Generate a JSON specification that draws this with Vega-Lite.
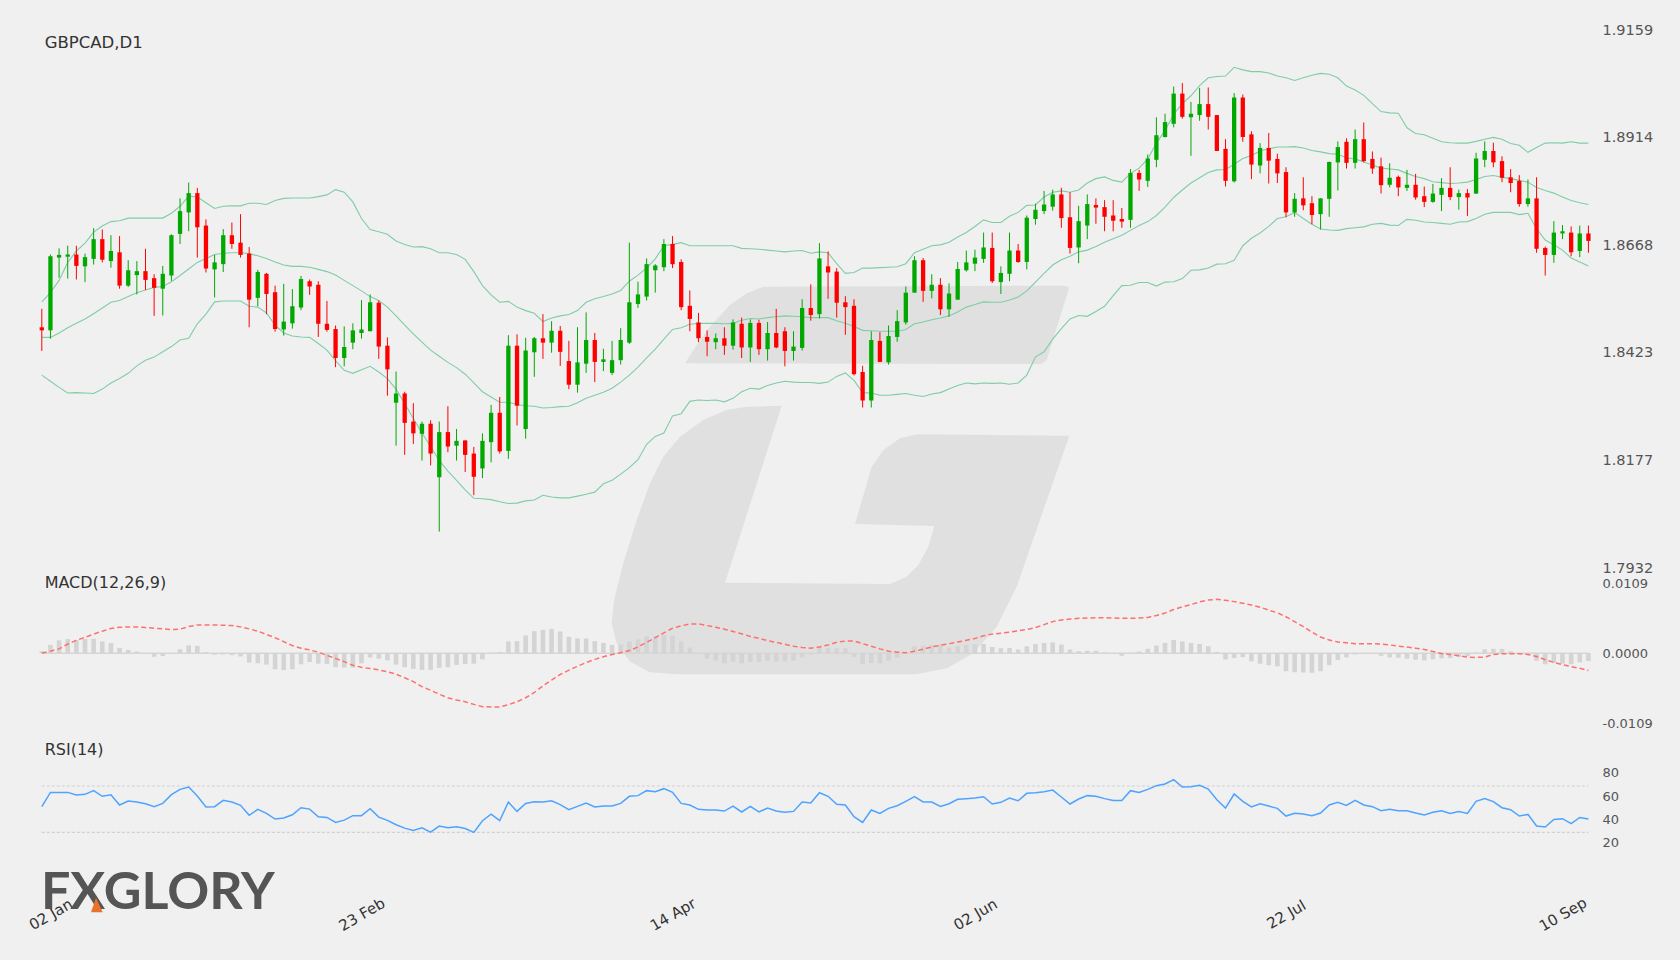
{
"$schema":"https://vega.github.io/schema/vega-lite/v6.json",
"width":1680,"height":960,"padding":0,"autosize":{"type":"none"},"background":"#f0f0f0",
"config":{"view":{"stroke":null},"font":"DejaVu Sans"},
"datasets":{"ohlc":[
{"i":0,"o":1.8481,"h":1.8523,"l":1.8427,"c":1.8474,"up":1.8539,"mid":1.8458,"lo":1.8372,"macd":0,"hist":0.00031,"rsi":52.2},
{"i":1,"o":1.8474,"h":1.8647,"l":1.8455,"c":1.8643,"up":1.856,"mid":1.8458,"lo":1.8358,"macd":0.00031,"hist":0.00128,"rsi":64.5},
{"i":2,"o":1.864,"h":1.8661,"l":1.8594,"c":1.8646,"up":1.8588,"mid":1.8468,"lo":1.8344,"macd":0.00067,"hist":0.002,"rsi":64.5},
{"i":3,"o":1.8642,"h":1.8667,"l":1.8592,"c":1.8647,"up":1.8629,"mid":1.848,"lo":1.8331,"macd":0.00143,"hist":0.0022,"rsi":64.5},
{"i":4,"o":1.8647,"h":1.8667,"l":1.859,"c":1.8621,"up":1.8655,"mid":1.849,"lo":1.8332,"macd":0.002,"hist":0.00205,"rsi":62.2},
{"i":5,"o":1.862,"h":1.8649,"l":1.8584,"c":1.8641,"up":1.8673,"mid":1.85,"lo":1.8331,"macd":0.00246,"hist":0.0022,"rsi":62.8},
{"i":6,"o":1.8637,"h":1.8707,"l":1.8624,"c":1.8682,"up":1.8698,"mid":1.8512,"lo":1.833,"macd":0.00297,"hist":0.00225,"rsi":66},
{"i":7,"o":1.8682,"h":1.8704,"l":1.8629,"c":1.8635,"up":1.8712,"mid":1.8525,"lo":1.834,"macd":0.00343,"hist":0.00184,"rsi":61.1},
{"i":8,"o":1.8632,"h":1.8691,"l":1.8617,"c":1.8655,"up":1.8722,"mid":1.8538,"lo":1.8354,"macd":0.00384,"hist":0.00159,"rsi":62.5},
{"i":9,"o":1.8652,"h":1.8689,"l":1.8569,"c":1.8576,"up":1.8724,"mid":1.8542,"lo":1.8364,"macd":0.00404,"hist":0.00082,"rsi":53.6},
{"i":10,"o":1.8576,"h":1.8634,"l":1.8573,"c":1.8611,"up":1.873,"mid":1.8551,"lo":1.8376,"macd":0.0041,"hist":0.00051,"rsi":57},
{"i":11,"o":1.86,"h":1.8632,"l":1.8556,"c":1.8609,"up":1.873,"mid":1.856,"lo":1.8393,"macd":0.0041,"hist":0.00026,"rsi":56.2},
{"i":12,"o":1.8609,"h":1.866,"l":1.8566,"c":1.8589,"up":1.873,"mid":1.8566,"lo":1.8406,"macd":0.00399,"hist":-0.0001,"rsi":54.7},
{"i":13,"o":1.8593,"h":1.8602,"l":1.8507,"c":1.8571,"up":1.873,"mid":1.8572,"lo":1.8413,"macd":0.00389,"hist":-0.00056,"rsi":52.2},
{"i":14,"o":1.8569,"h":1.8621,"l":1.8508,"c":1.8603,"up":1.873,"mid":1.8574,"lo":1.8425,"macd":0.00379,"hist":-0.00046,"rsi":55},
{"i":15,"o":1.8599,"h":1.8693,"l":1.8587,"c":1.8691,"up":1.8741,"mid":1.8585,"lo":1.8437,"macd":0.00369,"hist":0,"rsi":62.5},
{"i":16,"o":1.8694,"h":1.8775,"l":1.8671,"c":1.8746,"up":1.8757,"mid":1.8599,"lo":1.8452,"macd":0.00374,"hist":0.00061,"rsi":67.1},
{"i":17,"o":1.8743,"h":1.8811,"l":1.87,"c":1.8787,"up":1.878,"mid":1.8614,"lo":1.8456,"macd":0.00415,"hist":0.00123,"rsi":69.1},
{"i":18,"o":1.8787,"h":1.8799,"l":1.864,"c":1.8709,"up":1.8778,"mid":1.8629,"lo":1.8489,"macd":0.0044,"hist":0.00113,"rsi":61.4},
{"i":19,"o":1.8713,"h":1.8727,"l":1.8606,"c":1.8615,"up":1.8765,"mid":1.8638,"lo":1.8511,"macd":0.0044,"hist":0.00015,"rsi":51.9},
{"i":20,"o":1.8613,"h":1.8646,"l":1.8549,"c":1.8629,"up":1.8752,"mid":1.8647,"lo":1.8539,"macd":0.0044,"hist":-0.00026,"rsi":52.2},
{"i":21,"o":1.8625,"h":1.8705,"l":1.8607,"c":1.8691,"up":1.8757,"mid":1.865,"lo":1.8541,"macd":0.00435,"hist":-0.0002,"rsi":57.6},
{"i":22,"o":1.8691,"h":1.872,"l":1.866,"c":1.8671,"up":1.8758,"mid":1.8651,"lo":1.8541,"macd":0.0043,"hist":-0.00031,"rsi":56.2},
{"i":23,"o":1.8674,"h":1.8739,"l":1.864,"c":1.8646,"up":1.8758,"mid":1.8651,"lo":1.8541,"macd":0.0041,"hist":-0.00051,"rsi":53.3},
{"i":24,"o":1.8649,"h":1.8664,"l":1.8481,"c":1.8544,"up":1.8764,"mid":1.8649,"lo":1.8529,"macd":0.00379,"hist":-0.00148,"rsi":44.7},
{"i":25,"o":1.8548,"h":1.8612,"l":1.8529,"c":1.8607,"up":1.8764,"mid":1.8644,"lo":1.8527,"macd":0.00343,"hist":-0.00159,"rsi":49.9},
{"i":26,"o":1.8603,"h":1.8605,"l":1.8511,"c":1.8557,"up":1.8761,"mid":1.8638,"lo":1.8514,"macd":0.00292,"hist":-0.00179,"rsi":46.4},
{"i":27,"o":1.8561,"h":1.8576,"l":1.8471,"c":1.8477,"up":1.877,"mid":1.863,"lo":1.8486,"macd":0.00241,"hist":-0.00251,"rsi":41.5},
{"i":28,"o":1.8476,"h":1.858,"l":1.8462,"c":1.8494,"up":1.8775,"mid":1.8623,"lo":1.8468,"macd":0.00179,"hist":-0.00266,"rsi":42.4},
{"i":29,"o":1.849,"h":1.8568,"l":1.8478,"c":1.8529,"up":1.8776,"mid":1.862,"lo":1.8461,"macd":0.00118,"hist":-0.00251,"rsi":45.2},
{"i":30,"o":1.8526,"h":1.8598,"l":1.852,"c":1.8591,"up":1.8776,"mid":1.862,"lo":1.8459,"macd":0.00077,"hist":-0.00174,"rsi":51.3},
{"i":31,"o":1.8586,"h":1.859,"l":1.8555,"c":1.8574,"up":1.8776,"mid":1.8618,"lo":1.8458,"macd":0.00051,"hist":-0.00138,"rsi":50.1},
{"i":32,"o":1.8578,"h":1.8586,"l":1.8459,"c":1.8489,"up":1.8779,"mid":1.8613,"lo":1.8444,"macd":0.00015,"hist":-0.00164,"rsi":43.5},
{"i":33,"o":1.8489,"h":1.8541,"l":1.8471,"c":1.8475,"up":1.8783,"mid":1.8608,"lo":1.8429,"macd":-0.00036,"hist":-0.00169,"rsi":42.9},
{"i":34,"o":1.8477,"h":1.8485,"l":1.839,"c":1.8411,"up":1.8795,"mid":1.86,"lo":1.8405,"macd":-0.00082,"hist":-0.0022,"rsi":38.6},
{"i":35,"o":1.8411,"h":1.8483,"l":1.8392,"c":1.8436,"up":1.8789,"mid":1.8588,"lo":1.8383,"macd":-0.00133,"hist":-0.00225,"rsi":40.6},
{"i":36,"o":1.8446,"h":1.849,"l":1.8431,"c":1.8474,"up":1.8767,"mid":1.8576,"lo":1.8376,"macd":-0.00189,"hist":-0.00225,"rsi":44.4},
{"i":37,"o":1.8468,"h":1.8543,"l":1.8455,"c":1.8476,"up":1.8729,"mid":1.8564,"lo":1.8384,"macd":-0.0022,"hist":-0.00159,"rsi":44.4},
{"i":38,"o":1.8472,"h":1.8556,"l":1.8472,"c":1.8538,"up":1.8704,"mid":1.8551,"lo":1.8392,"macd":-0.00241,"hist":-0.00067,"rsi":50.4},
{"i":39,"o":1.8537,"h":1.8542,"l":1.8409,"c":1.8437,"up":1.8699,"mid":1.8542,"lo":1.8379,"macd":-0.00261,"hist":-0.00087,"rsi":43.2},
{"i":40,"o":1.8439,"h":1.8458,"l":1.8325,"c":1.8385,"up":1.8693,"mid":1.8527,"lo":1.8364,"macd":-0.00292,"hist":-0.00113,"rsi":40.4},
{"i":41,"o":1.8309,"h":1.838,"l":1.8211,"c":1.833,"up":1.8678,"mid":1.8507,"lo":1.834,"macd":-0.00328,"hist":-0.00179,"rsi":36.6},
{"i":42,"o":1.833,"h":1.8334,"l":1.819,"c":1.8263,"up":1.867,"mid":1.8486,"lo":1.8307,"macd":-0.00384,"hist":-0.0022,"rsi":33.7},
{"i":43,"o":1.8266,"h":1.8308,"l":1.8215,"c":1.8239,"up":1.8664,"mid":1.8466,"lo":1.8273,"macd":-0.00445,"hist":-0.00246,"rsi":31.7},
{"i":44,"o":1.8238,"h":1.8266,"l":1.8177,"c":1.8261,"up":1.8665,"mid":1.8447,"lo":1.824,"macd":-0.00522,"hist":-0.00261,"rsi":34},
{"i":45,"o":1.8261,"h":1.8269,"l":1.8166,"c":1.8193,"up":1.866,"mid":1.8429,"lo":1.8209,"macd":-0.00579,"hist":-0.00261,"rsi":30.3},
{"i":46,"o":1.8139,"h":1.8266,"l":1.8015,"c":1.8242,"up":1.8651,"mid":1.8415,"lo":1.8177,"macd":-0.0064,"hist":-0.0023,"rsi":35.5},
{"i":47,"o":1.8242,"h":1.8301,"l":1.8196,"c":1.8209,"up":1.8651,"mid":1.8401,"lo":1.8153,"macd":-0.00696,"hist":-0.0022,"rsi":34},
{"i":48,"o":1.8211,"h":1.8249,"l":1.8177,"c":1.8222,"up":1.8647,"mid":1.8389,"lo":1.8132,"macd":-0.00732,"hist":-0.00184,"rsi":34.9},
{"i":49,"o":1.8223,"h":1.8223,"l":1.8151,"c":1.819,"up":1.8636,"mid":1.8374,"lo":1.811,"macd":-0.00758,"hist":-0.00169,"rsi":33.4},
{"i":50,"o":1.8193,"h":1.8208,"l":1.8098,"c":1.814,"up":1.8608,"mid":1.8354,"lo":1.8091,"macd":-0.00799,"hist":-0.00164,"rsi":30},
{"i":51,"o":1.8159,"h":1.8239,"l":1.8137,"c":1.8222,"up":1.8576,"mid":1.8334,"lo":1.809,"macd":-0.00835,"hist":-0.00097,"rsi":40.1},
{"i":52,"o":1.8219,"h":1.8304,"l":1.8173,"c":1.8286,"up":1.8555,"mid":1.8322,"lo":1.8088,"macd":-0.0084,"hist":0.00005,"rsi":45.8},
{"i":53,"o":1.8286,"h":1.8322,"l":1.8193,"c":1.8198,"up":1.8538,"mid":1.831,"lo":1.8083,"macd":-0.0084,"hist":0.0002,"rsi":40.1},
{"i":54,"o":1.8199,"h":1.8463,"l":1.8181,"c":1.8439,"up":1.854,"mid":1.831,"lo":1.8079,"macd":-0.00804,"hist":0.00184,"rsi":56.2},
{"i":55,"o":1.8439,"h":1.8465,"l":1.8257,"c":1.8302,"up":1.8527,"mid":1.8305,"lo":1.808,"macd":-0.00758,"hist":0.00189,"rsi":48.1},
{"i":56,"o":1.8249,"h":1.8457,"l":1.8227,"c":1.8428,"up":1.8519,"mid":1.8302,"lo":1.8085,"macd":-0.00696,"hist":0.00276,"rsi":55},
{"i":57,"o":1.8424,"h":1.8459,"l":1.8368,"c":1.8456,"up":1.8513,"mid":1.8301,"lo":1.8087,"macd":-0.00614,"hist":0.00343,"rsi":56.5},
{"i":58,"o":1.8456,"h":1.8511,"l":1.8409,"c":1.8446,"up":1.8494,"mid":1.8297,"lo":1.8098,"macd":-0.00512,"hist":0.00364,"rsi":56.2},
{"i":59,"o":1.8446,"h":1.8495,"l":1.8423,"c":1.8473,"up":1.8502,"mid":1.8298,"lo":1.8094,"macd":-0.0042,"hist":0.00379,"rsi":57.3},
{"i":60,"o":1.8473,"h":1.8484,"l":1.8393,"c":1.8425,"up":1.8507,"mid":1.83,"lo":1.8092,"macd":-0.00333,"hist":0.00338,"rsi":53.9},
{"i":61,"o":1.8404,"h":1.845,"l":1.834,"c":1.835,"up":1.851,"mid":1.8301,"lo":1.8092,"macd":-0.00266,"hist":0.00256,"rsi":49.6},
{"i":62,"o":1.835,"h":1.8481,"l":1.8332,"c":1.8401,"up":1.8519,"mid":1.8309,"lo":1.8096,"macd":-0.00205,"hist":0.0023,"rsi":52.4},
{"i":63,"o":1.8398,"h":1.8515,"l":1.8377,"c":1.8452,"up":1.8538,"mid":1.8319,"lo":1.81,"macd":-0.00148,"hist":0.0023,"rsi":55.3},
{"i":64,"o":1.8452,"h":1.8468,"l":1.8356,"c":1.8402,"up":1.8546,"mid":1.8326,"lo":1.8105,"macd":-0.00097,"hist":0.00189,"rsi":51.9},
{"i":65,"o":1.8402,"h":1.8432,"l":1.8381,"c":1.8408,"up":1.8551,"mid":1.8333,"lo":1.8124,"macd":-0.00056,"hist":0.00159,"rsi":52.7},
{"i":66,"o":1.8377,"h":1.845,"l":1.8372,"c":1.8406,"up":1.8557,"mid":1.8342,"lo":1.8132,"macd":-0.0002,"hist":0.00128,"rsi":52.7},
{"i":67,"o":1.8406,"h":1.8479,"l":1.8396,"c":1.8452,"up":1.8565,"mid":1.8356,"lo":1.8146,"macd":0.00005,"hist":0.00133,"rsi":55},
{"i":68,"o":1.8446,"h":1.8674,"l":1.8443,"c":1.8538,"up":1.8586,"mid":1.8372,"lo":1.8161,"macd":0.00041,"hist":0.00184,"rsi":61.1},
{"i":69,"o":1.8534,"h":1.8585,"l":1.8525,"c":1.8556,"up":1.86,"mid":1.839,"lo":1.8179,"macd":0.00097,"hist":0.00215,"rsi":61.7},
{"i":70,"o":1.8551,"h":1.8638,"l":1.8542,"c":1.8625,"up":1.8616,"mid":1.8411,"lo":1.8214,"macd":0.00169,"hist":0.00261,"rsi":66},
{"i":71,"o":1.8611,"h":1.8625,"l":1.856,"c":1.8622,"up":1.8637,"mid":1.8431,"lo":1.8232,"macd":0.00241,"hist":0.00261,"rsi":65.1},
{"i":72,"o":1.8618,"h":1.8682,"l":1.8609,"c":1.8671,"up":1.8667,"mid":1.8454,"lo":1.824,"macd":0.00317,"hist":0.00282,"rsi":67.7},
{"i":73,"o":1.8671,"h":1.8689,"l":1.8616,"c":1.8625,"up":1.867,"mid":1.8476,"lo":1.8279,"macd":0.00389,"hist":0.00276,"rsi":64.5},
{"i":74,"o":1.863,"h":1.8636,"l":1.852,"c":1.8527,"up":1.8674,"mid":1.848,"lo":1.8284,"macd":0.00425,"hist":0.00184,"rsi":55},
{"i":75,"o":1.853,"h":1.8565,"l":1.8472,"c":1.85,"up":1.8667,"mid":1.8488,"lo":1.8312,"macd":0.00456,"hist":0.00087,"rsi":53.6},
{"i":76,"o":1.8492,"h":1.8514,"l":1.8447,"c":1.8456,"up":1.8667,"mid":1.849,"lo":1.8315,"macd":0.00456,"hist":0,"rsi":49.9},
{"i":77,"o":1.8459,"h":1.8474,"l":1.8415,"c":1.8448,"up":1.8667,"mid":1.849,"lo":1.8314,"macd":0.0043,"hist":-0.00087,"rsi":49.3},
{"i":78,"o":1.8447,"h":1.8467,"l":1.8431,"c":1.8456,"up":1.8667,"mid":1.849,"lo":1.8315,"macd":0.00404,"hist":-0.00113,"rsi":49.3},
{"i":79,"o":1.8456,"h":1.8481,"l":1.8418,"c":1.8439,"up":1.8667,"mid":1.8489,"lo":1.8311,"macd":0.00374,"hist":-0.00159,"rsi":48.4},
{"i":80,"o":1.8439,"h":1.8499,"l":1.843,"c":1.8492,"up":1.8667,"mid":1.849,"lo":1.8319,"macd":0.00338,"hist":-0.00138,"rsi":52.7},
{"i":81,"o":1.8489,"h":1.8503,"l":1.8411,"c":1.8435,"up":1.8661,"mid":1.8497,"lo":1.8334,"macd":0.00302,"hist":-0.00159,"rsi":47.6},
{"i":82,"o":1.8435,"h":1.8499,"l":1.8402,"c":1.8491,"up":1.866,"mid":1.8501,"lo":1.8342,"macd":0.00261,"hist":-0.00138,"rsi":52.4},
{"i":83,"o":1.8491,"h":1.8498,"l":1.8418,"c":1.8431,"up":1.8659,"mid":1.85,"lo":1.834,"macd":0.0023,"hist":-0.00138,"rsi":47.6},
{"i":84,"o":1.8431,"h":1.8493,"l":1.8405,"c":1.8468,"up":1.8657,"mid":1.8503,"lo":1.8348,"macd":0.00195,"hist":-0.00123,"rsi":51},
{"i":85,"o":1.8468,"h":1.8523,"l":1.8433,"c":1.8435,"up":1.8655,"mid":1.8505,"lo":1.8354,"macd":0.00169,"hist":-0.00133,"rsi":48.4},
{"i":86,"o":1.8472,"h":1.8481,"l":1.8392,"c":1.8427,"up":1.8653,"mid":1.8507,"lo":1.8358,"macd":0.00138,"hist":-0.00128,"rsi":47.3},
{"i":87,"o":1.8427,"h":1.8472,"l":1.8405,"c":1.8437,"up":1.8655,"mid":1.8506,"lo":1.8356,"macd":0.00108,"hist":-0.00118,"rsi":48.1},
{"i":88,"o":1.8434,"h":1.8545,"l":1.8428,"c":1.8525,"up":1.8656,"mid":1.8505,"lo":1.8355,"macd":0.00087,"hist":-0.00067,"rsi":56.2},
{"i":89,"o":1.8525,"h":1.8579,"l":1.8496,"c":1.8509,"up":1.865,"mid":1.8503,"lo":1.8355,"macd":0.00077,"hist":-0.0002,"rsi":55.3},
{"i":90,"o":1.8511,"h":1.8673,"l":1.8501,"c":1.8638,"up":1.8653,"mid":1.8503,"lo":1.8353,"macd":0.00097,"hist":0.00097,"rsi":64.2},
{"i":91,"o":1.862,"h":1.8654,"l":1.8546,"c":1.8606,"up":1.8651,"mid":1.8503,"lo":1.8356,"macd":0.00128,"hist":0.00082,"rsi":61.1},
{"i":92,"o":1.8608,"h":1.8616,"l":1.8503,"c":1.8537,"up":1.8626,"mid":1.8496,"lo":1.8369,"macd":0.00169,"hist":0.00077,"rsi":54.2},
{"i":93,"o":1.8538,"h":1.8552,"l":1.8464,"c":1.8527,"up":1.8604,"mid":1.849,"lo":1.8377,"macd":0.00189,"hist":0.00077,"rsi":53.6},
{"i":94,"o":1.853,"h":1.8545,"l":1.8371,"c":1.8374,"up":1.8606,"mid":1.8483,"lo":1.836,"macd":0.00189,"hist":-0.00061,"rsi":43.5},
{"i":95,"o":1.8379,"h":1.8393,"l":1.8298,"c":1.8314,"up":1.8616,"mid":1.8474,"lo":1.8332,"macd":0.00148,"hist":-0.00169,"rsi":38.6},
{"i":96,"o":1.8314,"h":1.8472,"l":1.8298,"c":1.8452,"up":1.8616,"mid":1.8473,"lo":1.8331,"macd":0.00108,"hist":-0.00154,"rsi":49.3},
{"i":97,"o":1.845,"h":1.847,"l":1.8402,"c":1.8402,"up":1.8617,"mid":1.8472,"lo":1.8326,"macd":0.00067,"hist":-0.00159,"rsi":46.4},
{"i":98,"o":1.8401,"h":1.8485,"l":1.8396,"c":1.8461,"up":1.8618,"mid":1.8472,"lo":1.8326,"macd":0.00031,"hist":-0.00118,"rsi":50.7},
{"i":99,"o":1.8459,"h":1.852,"l":1.8448,"c":1.8495,"up":1.8619,"mid":1.8472,"lo":1.8328,"macd":0.00015,"hist":-0.00072,"rsi":53},
{"i":100,"o":1.8492,"h":1.8574,"l":1.8487,"c":1.856,"up":1.8626,"mid":1.8476,"lo":1.833,"macd":0.00005,"hist":0.00005,"rsi":56.8},
{"i":101,"o":1.856,"h":1.8643,"l":1.856,"c":1.8634,"up":1.8651,"mid":1.8489,"lo":1.8326,"macd":0.00031,"hist":0.00108,"rsi":60.8},
{"i":102,"o":1.8634,"h":1.8639,"l":1.8539,"c":1.8564,"up":1.8659,"mid":1.8493,"lo":1.8323,"macd":0.00061,"hist":0.00118,"rsi":56.2},
{"i":103,"o":1.8564,"h":1.8602,"l":1.8547,"c":1.8578,"up":1.8667,"mid":1.8498,"lo":1.8329,"macd":0.00097,"hist":0.00128,"rsi":56.2},
{"i":104,"o":1.8578,"h":1.8593,"l":1.8509,"c":1.8522,"up":1.8669,"mid":1.8502,"lo":1.8332,"macd":0.00123,"hist":0.00138,"rsi":52.4},
{"i":105,"o":1.8522,"h":1.8581,"l":1.8505,"c":1.8558,"up":1.8675,"mid":1.8507,"lo":1.834,"macd":0.00148,"hist":0.00087,"rsi":54.7},
{"i":106,"o":1.8544,"h":1.863,"l":1.8544,"c":1.8614,"up":1.8687,"mid":1.8516,"lo":1.8348,"macd":0.00174,"hist":0.00108,"rsi":58.5},
{"i":107,"o":1.8611,"h":1.8656,"l":1.8608,"c":1.8629,"up":1.8697,"mid":1.8527,"lo":1.8354,"macd":0.002,"hist":0.00128,"rsi":59.1},
{"i":108,"o":1.8626,"h":1.8658,"l":1.8609,"c":1.864,"up":1.8711,"mid":1.8533,"lo":1.8352,"macd":0.0023,"hist":0.00138,"rsi":59.6},
{"i":109,"o":1.8637,"h":1.8697,"l":1.8628,"c":1.8663,"up":1.8726,"mid":1.8539,"lo":1.8354,"macd":0.00271,"hist":0.00143,"rsi":60.8},
{"i":110,"o":1.8662,"h":1.8697,"l":1.8582,"c":1.8586,"up":1.872,"mid":1.8538,"lo":1.8353,"macd":0.00297,"hist":0.00097,"rsi":54.5},
{"i":111,"o":1.8584,"h":1.862,"l":1.8557,"c":1.8605,"up":1.872,"mid":1.8538,"lo":1.8354,"macd":0.00312,"hist":0.00077,"rsi":55.9},
{"i":112,"o":1.8603,"h":1.8697,"l":1.8586,"c":1.8656,"up":1.8734,"mid":1.8543,"lo":1.8351,"macd":0.00328,"hist":0.00082,"rsi":59.6},
{"i":113,"o":1.8656,"h":1.8671,"l":1.8628,"c":1.863,"up":1.8743,"mid":1.855,"lo":1.8354,"macd":0.00348,"hist":0.00056,"rsi":57.3},
{"i":114,"o":1.863,"h":1.8736,"l":1.8613,"c":1.8731,"up":1.8759,"mid":1.8564,"lo":1.8372,"macd":0.00369,"hist":0.00108,"rsi":63.7},
{"i":115,"o":1.8728,"h":1.8763,"l":1.8715,"c":1.8749,"up":1.876,"mid":1.8584,"lo":1.8413,"macd":0.00399,"hist":0.00143,"rsi":64.2},
{"i":116,"o":1.8746,"h":1.8792,"l":1.8739,"c":1.8761,"up":1.8778,"mid":1.8604,"lo":1.8425,"macd":0.00445,"hist":0.00159,"rsi":65.1},
{"i":117,"o":1.8756,"h":1.8795,"l":1.8747,"c":1.8784,"up":1.8789,"mid":1.8623,"lo":1.8454,"macd":0.00492,"hist":0.00169,"rsi":66.5},
{"i":118,"o":1.8784,"h":1.8799,"l":1.8708,"c":1.873,"up":1.8792,"mid":1.8635,"lo":1.8478,"macd":0.00517,"hist":0.00133,"rsi":60.5},
{"i":119,"o":1.8732,"h":1.8789,"l":1.8649,"c":1.8662,"up":1.8789,"mid":1.8643,"lo":1.85,"macd":0.00532,"hist":0.00056,"rsi":54.5},
{"i":120,"o":1.8663,"h":1.8758,"l":1.8627,"c":1.8723,"up":1.8794,"mid":1.8653,"lo":1.8508,"macd":0.00543,"hist":0.00031,"rsi":58.8},
{"i":121,"o":1.8713,"h":1.8784,"l":1.8682,"c":1.8762,"up":1.881,"mid":1.8657,"lo":1.8506,"macd":0.00548,"hist":0.00036,"rsi":61.7},
{"i":122,"o":1.876,"h":1.8775,"l":1.8717,"c":1.8754,"up":1.882,"mid":1.8665,"lo":1.8517,"macd":0.00553,"hist":0.00036,"rsi":61.1},
{"i":123,"o":1.8755,"h":1.8771,"l":1.87,"c":1.8733,"up":1.8824,"mid":1.8675,"lo":1.8529,"macd":0.00553,"hist":0.0001,"rsi":59.1},
{"i":124,"o":1.8736,"h":1.8771,"l":1.87,"c":1.8724,"up":1.8816,"mid":1.8683,"lo":1.8553,"macd":0.00548,"hist":-0.0001,"rsi":57.6},
{"i":125,"o":1.8728,"h":1.8753,"l":1.8708,"c":1.8722,"up":1.8812,"mid":1.8691,"lo":1.8576,"macd":0.00543,"hist":-0.00041,"rsi":57.6},
{"i":126,"o":1.8726,"h":1.8842,"l":1.8708,"c":1.8833,"up":1.8832,"mid":1.8702,"lo":1.8577,"macd":0.00543,"hist":0.00005,"rsi":66},
{"i":127,"o":1.8833,"h":1.884,"l":1.8792,"c":1.8818,"up":1.8844,"mid":1.8713,"lo":1.8583,"macd":0.00548,"hist":0.00026,"rsi":64.5},
{"i":128,"o":1.8815,"h":1.8875,"l":1.8801,"c":1.8866,"up":1.8865,"mid":1.8722,"lo":1.8583,"macd":0.00558,"hist":0.00067,"rsi":67.1},
{"i":129,"o":1.8863,"h":1.896,"l":1.8846,"c":1.8919,"up":1.8901,"mid":1.8736,"lo":1.8575,"macd":0.00589,"hist":0.00118,"rsi":70.3},
{"i":130,"o":1.8915,"h":1.8968,"l":1.8914,"c":1.8949,"up":1.893,"mid":1.8755,"lo":1.8584,"macd":0.00625,"hist":0.00159,"rsi":71.7},
{"i":131,"o":1.8945,"h":1.903,"l":1.8937,"c":1.9014,"up":1.8967,"mid":1.8777,"lo":1.8585,"macd":0.00681,"hist":0.00205,"rsi":75.5},
{"i":132,"o":1.9014,"h":1.9038,"l":1.8957,"c":1.8961,"up":1.8991,"mid":1.8794,"lo":1.8592,"macd":0.00722,"hist":0.00184,"rsi":69.1},
{"i":133,"o":1.896,"h":1.8995,"l":1.8872,"c":1.8968,"up":1.9009,"mid":1.881,"lo":1.8611,"macd":0.00758,"hist":0.00159,"rsi":69.4},
{"i":134,"o":1.8965,"h":1.9027,"l":1.8952,"c":1.899,"up":1.9032,"mid":1.8822,"lo":1.8612,"macd":0.00799,"hist":0.00143,"rsi":70.6},
{"i":135,"o":1.899,"h":1.9028,"l":1.8932,"c":1.8961,"up":1.905,"mid":1.8834,"lo":1.8616,"macd":0.00829,"hist":0.00108,"rsi":67.4},
{"i":136,"o":1.8965,"h":1.8965,"l":1.8883,"c":1.8883,"up":1.9053,"mid":1.884,"lo":1.8625,"macd":0.0084,"hist":0.0002,"rsi":58.2},
{"i":137,"o":1.8888,"h":1.891,"l":1.8802,"c":1.8815,"up":1.9054,"mid":1.8841,"lo":1.8626,"macd":0.00824,"hist":-0.00097,"rsi":51},
{"i":138,"o":1.8814,"h":1.9015,"l":1.8811,"c":1.9005,"up":1.9074,"mid":1.8853,"lo":1.8634,"macd":0.00804,"hist":-0.00077,"rsi":63.1},
{"i":139,"o":1.9005,"h":1.9012,"l":1.8904,"c":1.8915,"up":1.9068,"mid":1.8866,"lo":1.8667,"macd":0.00778,"hist":-0.00061,"rsi":56.8},
{"i":140,"o":1.8921,"h":1.8928,"l":1.8819,"c":1.8852,"up":1.9064,"mid":1.8873,"lo":1.8684,"macd":0.00753,"hist":-0.00128,"rsi":51.9},
{"i":141,"o":1.885,"h":1.8901,"l":1.8832,"c":1.889,"up":1.9064,"mid":1.8883,"lo":1.8696,"macd":0.00717,"hist":-0.00164,"rsi":54.7},
{"i":142,"o":1.889,"h":1.8924,"l":1.8809,"c":1.8861,"up":1.9061,"mid":1.8888,"lo":1.8711,"macd":0.00671,"hist":-0.00189,"rsi":52.7},
{"i":143,"o":1.8865,"h":1.8877,"l":1.881,"c":1.8832,"up":1.9054,"mid":1.8892,"lo":1.8729,"macd":0.0063,"hist":-0.00205,"rsi":50.7},
{"i":144,"o":1.8835,"h":1.8846,"l":1.8732,"c":1.8743,"up":1.905,"mid":1.8892,"lo":1.8733,"macd":0.00568,"hist":-0.00282,"rsi":44.1},
{"i":145,"o":1.8743,"h":1.8787,"l":1.8733,"c":1.8774,"up":1.9044,"mid":1.8893,"lo":1.8743,"macd":0.00492,"hist":-0.00297,"rsi":46.4},
{"i":146,"o":1.8775,"h":1.8823,"l":1.8748,"c":1.8759,"up":1.905,"mid":1.889,"lo":1.8729,"macd":0.00415,"hist":-0.00302,"rsi":45.8},
{"i":147,"o":1.8764,"h":1.878,"l":1.8716,"c":1.8737,"up":1.9056,"mid":1.8884,"lo":1.8716,"macd":0.00328,"hist":-0.00307,"rsi":44.4},
{"i":148,"o":1.8739,"h":1.8775,"l":1.8704,"c":1.8775,"up":1.906,"mid":1.8881,"lo":1.8705,"macd":0.00251,"hist":-0.00282,"rsi":46.7},
{"i":149,"o":1.8774,"h":1.8859,"l":1.8733,"c":1.8858,"up":1.9058,"mid":1.8877,"lo":1.8703,"macd":0.00205,"hist":-0.00189,"rsi":53.6},
{"i":150,"o":1.8857,"h":1.8905,"l":1.8793,"c":1.8892,"up":1.905,"mid":1.8876,"lo":1.8702,"macd":0.00174,"hist":-0.00108,"rsi":55.9},
{"i":151,"o":1.8904,"h":1.8912,"l":1.8843,"c":1.8856,"up":1.9031,"mid":1.8867,"lo":1.8706,"macd":0.00164,"hist":-0.00067,"rsi":53.3},
{"i":152,"o":1.8856,"h":1.8932,"l":1.8843,"c":1.891,"up":1.9022,"mid":1.8865,"lo":1.8708,"macd":0.00148,"hist":-0.0002,"rsi":57.6},
{"i":153,"o":1.891,"h":1.8948,"l":1.8857,"c":1.886,"up":1.901,"mid":1.8858,"lo":1.871,"macd":0.00148,"hist":-0.0001,"rsi":53.6},
{"i":154,"o":1.8865,"h":1.8882,"l":1.8831,"c":1.8843,"up":1.8991,"mid":1.8851,"lo":1.8716,"macd":0.00148,"hist":-0.0001,"rsi":52.2},
{"i":155,"o":1.8848,"h":1.8868,"l":1.8786,"c":1.8805,"up":1.8973,"mid":1.8844,"lo":1.8718,"macd":0.00143,"hist":-0.00041,"rsi":48.7},
{"i":156,"o":1.8806,"h":1.8855,"l":1.88,"c":1.8822,"up":1.897,"mid":1.8842,"lo":1.8714,"macd":0.00128,"hist":-0.00067,"rsi":49.9},
{"i":157,"o":1.8824,"h":1.8827,"l":1.878,"c":1.88,"up":1.8969,"mid":1.884,"lo":1.8713,"macd":0.00108,"hist":-0.00072,"rsi":48.7},
{"i":158,"o":1.8799,"h":1.884,"l":1.8792,"c":1.8806,"up":1.8936,"mid":1.8832,"lo":1.8727,"macd":0.00097,"hist":-0.00087,"rsi":48.7},
{"i":159,"o":1.8806,"h":1.8831,"l":1.8772,"c":1.8777,"up":1.8923,"mid":1.8825,"lo":1.8725,"macd":0.00077,"hist":-0.00102,"rsi":46.7},
{"i":160,"o":1.878,"h":1.8802,"l":1.8755,"c":1.8767,"up":1.892,"mid":1.882,"lo":1.8721,"macd":0.00056,"hist":-0.00113,"rsi":45},
{"i":161,"o":1.8767,"h":1.8808,"l":1.8765,"c":1.8786,"up":1.8912,"mid":1.8813,"lo":1.872,"macd":0.00026,"hist":-0.00097,"rsi":47.3},
{"i":162,"o":1.8783,"h":1.8821,"l":1.8746,"c":1.8799,"up":1.8904,"mid":1.8811,"lo":1.8718,"macd":-0.00005,"hist":-0.00082,"rsi":48.7},
{"i":163,"o":1.8799,"h":1.8846,"l":1.8771,"c":1.8778,"up":1.8902,"mid":1.8809,"lo":1.8716,"macd":-0.0002,"hist":-0.00077,"rsi":46.4},
{"i":164,"o":1.8778,"h":1.8795,"l":1.8749,"c":1.8787,"up":1.8901,"mid":1.881,"lo":1.8721,"macd":-0.00041,"hist":-0.00061,"rsi":47.9},
{"i":165,"o":1.8787,"h":1.8796,"l":1.8735,"c":1.8777,"up":1.8901,"mid":1.8812,"lo":1.8722,"macd":-0.00061,"hist":-0.00046,"rsi":46.4},
{"i":166,"o":1.8786,"h":1.8879,"l":1.8785,"c":1.8866,"up":1.8905,"mid":1.8818,"lo":1.8729,"macd":-0.00067,"hist":0.0001,"rsi":56.8},
{"i":167,"o":1.8863,"h":1.8905,"l":1.8846,"c":1.8883,"up":1.891,"mid":1.8825,"lo":1.8739,"macd":-0.00061,"hist":0.00061,"rsi":59.1},
{"i":168,"o":1.8883,"h":1.8902,"l":1.8846,"c":1.8857,"up":1.8914,"mid":1.8827,"lo":1.8743,"macd":-0.0002,"hist":0.00067,"rsi":56.5},
{"i":169,"o":1.886,"h":1.8871,"l":1.8812,"c":1.8822,"up":1.891,"mid":1.8823,"lo":1.8743,"macd":-0.0001,"hist":0.00067,"rsi":51.3},
{"i":170,"o":1.8823,"h":1.8842,"l":1.8789,"c":1.881,"up":1.89,"mid":1.882,"lo":1.8743,"macd":-0.0001,"hist":0.00031,"rsi":49.6},
{"i":171,"o":1.8815,"h":1.8828,"l":1.8756,"c":1.8762,"up":1.8896,"mid":1.8816,"lo":1.8738,"macd":-0.0001,"hist":-0.0001,"rsi":44.1},
{"i":172,"o":1.8762,"h":1.8818,"l":1.8756,"c":1.8775,"up":1.888,"mid":1.8812,"lo":1.8741,"macd":-0.0002,"hist":-0.00015,"rsi":45.5},
{"i":173,"o":1.8775,"h":1.8823,"l":1.8651,"c":1.866,"up":1.8891,"mid":1.88,"lo":1.8706,"macd":-0.00051,"hist":-0.00118,"rsi":35.5},
{"i":174,"o":1.8662,"h":1.8665,"l":1.8599,"c":1.8646,"up":1.8901,"mid":1.8793,"lo":1.868,"macd":-0.00102,"hist":-0.00174,"rsi":34.6},
{"i":175,"o":1.8646,"h":1.8723,"l":1.8628,"c":1.8697,"up":1.8902,"mid":1.8787,"lo":1.8669,"macd":-0.00143,"hist":-0.00154,"rsi":41.2},
{"i":176,"o":1.8695,"h":1.8714,"l":1.8682,"c":1.87,"up":1.8901,"mid":1.8778,"lo":1.8657,"macd":-0.00179,"hist":-0.00164,"rsi":41.8},
{"i":177,"o":1.8697,"h":1.8711,"l":1.8643,"c":1.8652,"up":1.8904,"mid":1.877,"lo":1.8639,"macd":-0.0021,"hist":-0.00174,"rsi":37.5},
{"i":178,"o":1.8655,"h":1.8713,"l":1.8641,"c":1.8695,"up":1.8901,"mid":1.8765,"lo":1.863,"macd":-0.00236,"hist":-0.00143,"rsi":42.9},
{"i":179,"o":1.8695,"h":1.8713,"l":1.8651,"c":1.8678,"up":1.8901,"mid":1.8761,"lo":1.8621,"macd":-0.00271,"hist":-0.00123,"rsi":41.5}
]},
"layer":[
{"data":{"values":{"type":"FeatureCollection","features":[
{"type":"Feature","properties":{},"geometry":{"type":"Polygon","coordinates":[[[685,363.3],[696.7,345],[710,326.7],[730,305],[746.7,293.3],[763.3,286.7],[1065,285.7],[1069.3,287.3],[1046.7,360],[1041.7,364],[685,363.3]]]}},
{"type":"Feature","properties":{},"geometry":{"type":"Polygon","coordinates":[[[781.7,405.7],[746.7,406.7],[726.7,410],[703.3,420],[680,436.7],[663.3,456.7],[650,483.3],[636.7,520],[623.3,563.3],[614,600],[611.7,623.3],[616.7,643.3],[630,661.7],[650,672.3],[676.7,674.3],[916.7,674.3],[946.7,668.3],[973.3,653.3],[996.7,626.7],[1016.7,586.7],[1069.3,435.7],[916.7,434.3],[900,438.3],[883.3,450],[871.7,466.7],[855,524],[934.3,526],[928.3,546.7],[918.3,565],[906.7,576.7],[890,584],[725,582.7],[781.7,405.7]]]}}
]},"format":{"type":"json","property":"features"}},
"projection":{"type":"identity","scale":1,"translate":[0,0]},
"mark":{"type":"geoshape","fill":"#e0e0e0","stroke":null}},
{"data":{"name":"ohlc"},
"encoding":{"x":{"field":"i","type":"quantitative","scale":{"domain":[-4.838,189.6],"nice":false,"zero":false,"padding":0},"axis":{"orient":"bottom","offset":-46,"values":[1,37,73,108,144,176],"labelExpr":"datum.value==1?'02 Jan':datum.value==37?'23 Feb':datum.value==73?'14 Apr':datum.value==108?'02 Jun':datum.value==144?'22 Jul':'10 Sep'","labelAngle":-30,"labelAlign":"center","labelBaseline":"middle","labelPadding":0,"labelFontSize":15,"labelColor":"#333333","labelFlush":false,"labelOverlap":false,"ticks":false,"domain":false,"grid":false,"title":null}}},
"layer":[
{"mark":{"type":"line","stroke":"#7fcda5","strokeWidth":1.1},"encoding":{"y":{"field":"up","type":"quantitative","scale":{"domain":[1.7932,1.9159],"range":[568,30],"nice":false,"zero":false},"axis":{"orient":"right","offset":-78,"values":[1.7932,1.8177,1.8423,1.8668,1.8914,1.9159],"format":".4f","labelAlign":"left","labelPadding":0,"labelFontSize":14.5,"labelColor":"#555555","labelBaseline":"middle","ticks":false,"domain":false,"grid":false,"title":null}}}},
{"mark":{"type":"line","stroke":"#7fcda5","strokeWidth":1.1},"encoding":{"y":{"field":"mid","type":"quantitative","scale":{"domain":[1.7932,1.9159],"range":[568,30],"nice":false,"zero":false},"axis":{"title":null}}}},
{"mark":{"type":"line","stroke":"#7fcda5","strokeWidth":1.1},"encoding":{"y":{"field":"lo","type":"quantitative","scale":{"domain":[1.7932,1.9159],"range":[568,30],"nice":false,"zero":false},"axis":{"title":null}}}},
{"mark":{"type":"rule","strokeWidth":1},"encoding":{"y":{"field":"h","type":"quantitative","scale":{"domain":[1.7932,1.9159],"range":[568,30],"nice":false,"zero":false},"axis":{"title":null}},"y2":{"field":"l"},"color":{"condition":{"test":"datum.c>=datum.o","value":"#00a800"},"value":"#ff0000"}}},
{"mark":{"type":"bar","width":4.3},"encoding":{"y":{"field":"o","type":"quantitative","scale":{"domain":[1.7932,1.9159],"range":[568,30],"nice":false,"zero":false},"axis":{"title":null}},"y2":{"field":"c"},"color":{"condition":{"test":"datum.c>=datum.o","value":"#00a800"},"value":"#ff0000"}}},
{"data":{"values":[{"i":0.33,"v":1.913,"t":"GBPCAD,D1"}]},"mark":{"type":"text","align":"left","baseline":"middle","fontSize":16.5,"color":"#333333"},"encoding":{"y":{"field":"v","type":"quantitative","scale":{"domain":[1.7932,1.9159],"range":[568,30],"nice":false,"zero":false},"axis":{"title":null}},"text":{"field":"t"}}}
]},
{"data":{"name":"ohlc"},
"encoding":{"x":{"field":"i","type":"quantitative","scale":{"domain":[-4.838,189.6],"nice":false,"zero":false,"padding":0},"axis":{"title":null}}},
"layer":[
{"data":{"values":[{"a":0,"b":179,"z":0}]},"mark":{"type":"rule","stroke":"#d6d6d6","strokeWidth":1.5},"encoding":{"x":{"field":"a","type":"quantitative","scale":{"domain":[-4.838,189.6],"nice":false,"zero":false,"padding":0},"axis":{"title":null}},"x2":{"field":"b"},"y":{"field":"z","type":"quantitative","scale":{"domain":[-0.0109,0.0109],"range":[723,583.3],"nice":false,"zero":false},"axis":{"orient":"right","offset":-78,"values":[-0.0109,0,0.0109],"labelExpr":"datum.value<0?'-0.0109':format(datum.value,'.4f')","labelAlign":"left","labelPadding":0,"labelFontSize":13,"labelColor":"#555555","labelBaseline":"middle","ticks":false,"domain":false,"grid":false,"title":null}}}},
{"mark":{"type":"bar","width":4.6,"color":"#d4d4d4"},"encoding":{"y":{"field":"hist","type":"quantitative","scale":{"domain":[-0.0109,0.0109],"range":[723,583.3],"nice":false,"zero":false},"axis":{"title":null}},"y2":{"datum":0}}},
{"mark":{"type":"line","stroke":"#ff6f6f","strokeWidth":1.5,"strokeDash":[5,3]},"encoding":{"y":{"field":"macd","type":"quantitative","scale":{"domain":[-0.0109,0.0109],"range":[723,583.3],"nice":false,"zero":false},"axis":{"title":null}}}},
{"data":{"values":[{"i":0.33,"v":0.01095,"t":"MACD(12,26,9)"}]},"mark":{"type":"text","align":"left","baseline":"middle","fontSize":16,"color":"#333333"},"encoding":{"y":{"field":"v","type":"quantitative","scale":{"domain":[-0.0109,0.0109],"range":[723,583.3],"nice":false,"zero":false},"axis":{"title":null}},"text":{"field":"t"}}}
]},
{"data":{"name":"ohlc"},
"encoding":{"x":{"field":"i","type":"quantitative","scale":{"domain":[-4.838,189.6],"nice":false,"zero":false,"padding":0},"axis":{"title":null}}},
"layer":[
{"data":{"values":[{"a":0,"b":179,"z":70},{"a":0,"b":179,"z":30}]},"mark":{"type":"rule","stroke":"#d0d0d0","strokeWidth":1.2,"strokeDash":[3,2]},"encoding":{"x":{"field":"a","type":"quantitative","scale":{"domain":[-4.838,189.6],"nice":false,"zero":false,"padding":0},"axis":{"title":null}},"x2":{"field":"b"},"y":{"field":"z","type":"quantitative","scale":{"domain":[20,80],"range":[844,774.4],"nice":false,"zero":false},"axis":{"orient":"right","offset":-78,"values":[20,40,60,80],"labelOffset":-1.5,"labelAlign":"left","labelPadding":0,"labelFontSize":13,"labelColor":"#555555","labelBaseline":"middle","ticks":false,"domain":false,"grid":false,"title":null}}}},
{"mark":{"type":"line","stroke":"#4da3ff","strokeWidth":1.5},"encoding":{"y":{"field":"rsi","type":"quantitative","scale":{"domain":[20,80],"range":[844,774.4],"nice":false,"zero":false},"axis":{"title":null}}}},
{"data":{"values":[{"i":0.33,"v":101,"t":"RSI(14)"}]},"mark":{"type":"text","align":"left","baseline":"middle","fontSize":16,"color":"#333333"},"encoding":{"y":{"field":"v","type":"quantitative","scale":{"domain":[20,80],"range":[844,774.4],"nice":false,"zero":false},"axis":{"title":null}},"text":{"field":"t"}}},
{"data":{"values":[{"i":-0.1,"v":-22.5,"t":"FXGLORY"}]},"mark":{"type":"text","align":"left","baseline":"middle","fontSize":52,"fontWeight":"bold","font":"Lato","color":"#555555"},"encoding":{"y":{"field":"v","type":"quantitative","scale":{"domain":[20,80],"range":[844,774.4],"nice":false,"zero":false},"axis":{"title":null}},"text":{"field":"t"}}}
]},
{"data":{"values":{"type":"FeatureCollection","features":[
{"type":"Feature","properties":{},"geometry":{"type":"Polygon","coordinates":[[[91,912.3],[96,897.7],[102.7,912.3],[91,912.3]]]}}
]},"format":{"type":"json","property":"features"}},
"projection":{"type":"identity","scale":1,"translate":[0,0]},
"mark":{"type":"geoshape","fill":"#e8722a","stroke":null}}
],
"resolve":{"scale":{"y":"independent"},"axis":{"y":"independent"}}
}
